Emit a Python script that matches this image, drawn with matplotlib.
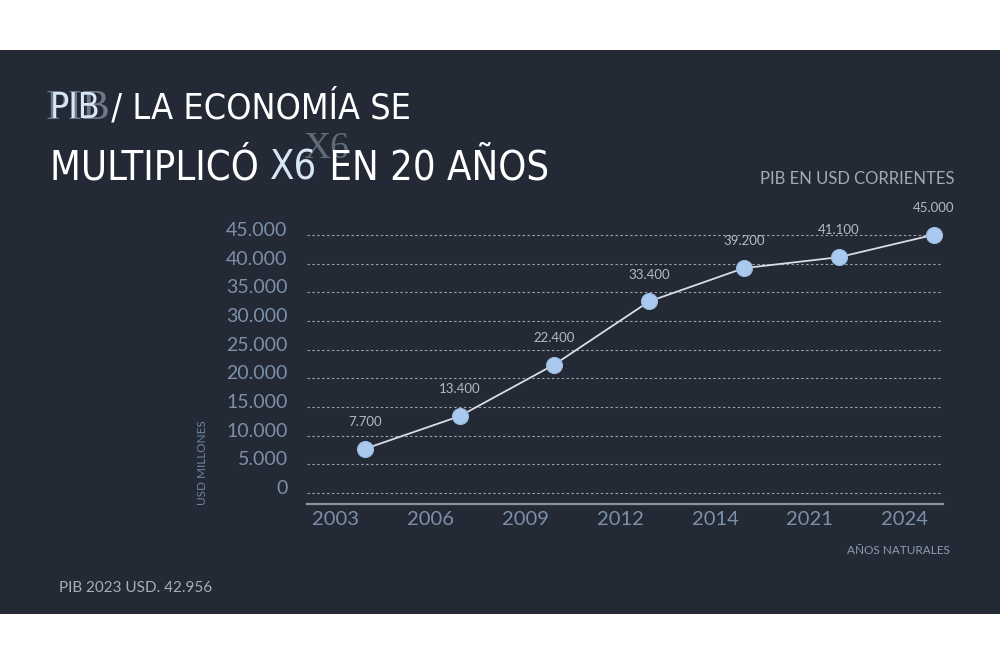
import matplotlib.pyplot as plt
import matplotlib.transforms as mtransforms
from matplotlib import font_manager
from matplotlib.patches import Rectangle

# data
years = ['2003', '2006', '2009', '2012', '2014', '2021', '2024']
pib = [7700, 13400, 22400, 33400, 39200, 41100, 45000]
pib_labels = ['7.700', '13.400', '22.400', '33.400', '39.200', '41.100', '45.000']
y_ticks = [0, 5000, 10000, 15000, 20000, 25000, 30000, 35000, 40000, 45000]
y_tick_labels = ['0', '5.000', '10.000', '15.000', '20.000', '25.000',
                 '30.000', '35.000', '40.000', '45.000']

BG = '#232a36'
TICK = '#7d90a8'
LABEL = '#b4bac4'
MARKER = '#a9caee'
LIGHTBLUE = '#d6e6f7'
SANS = ['Lato', 'DejaVu Sans']

# narrow font for the title if one is around
fp = font_manager.FontProperties(family='DejaVu Sans', stretch='condensed')
if 'Condensed' in font_manager.findfont(fp):
    TITLE_PROPS = dict(family='DejaVu Sans', fontstretch='condensed')
else:
    TITLE_PROPS = dict(family=SANS)

fig = plt.figure(figsize=(10, 6.67), dpi=100)
fig.patch.set_facecolor('white')

# dark panel
fig.patches.append(Rectangle((0, 1 - 614 / 667), 1, (614 - 50) / 667,
                             transform=fig.transFigure, facecolor=BG,
                             edgecolor='none', zorder=-5))

ax = fig.add_axes([0.307, 1 - 504 / 667, 0.636, 274.9 / 667])
ax.set_facecolor('none')
ax.set_zorder(2)

x = list(range(len(years)))
ax.plot(x, pib, color='#d9dde3', linewidth=1.3, zorder=3, clip_on=False)
ax.plot(x, pib, 'o', markersize=11.5, color=MARKER, markeredgecolor='#9dbde0',
        markeredgewidth=0.8, zorder=4, clip_on=False)
for xi, v, lab in zip(x, pib, pib_labels):
    ax.annotate(lab, (xi, v), xytext=(0, 15), textcoords='offset points',
                ha='center', va='bottom', color=LABEL, fontsize=9.5,
                family=SANS)

ax.set_xlim(-0.61, 6.1)
ax.set_ylim(-1900, 46000)
ax.set_yticks(y_ticks)
ax.set_yticklabels(y_tick_labels)
ax.set_xticks(x)
ax.set_xticklabels(years)
ax.grid(axis='y', color='#9aa1ab', linestyle=(0, (2.2, 2.2)), linewidth=0.8)
ax.set_axisbelow(True)
ax.tick_params(axis='both', length=0, colors=TICK)
ax.tick_params(axis='y', pad=14, labelsize=14)
ax.tick_params(axis='x', pad=5, labelsize=14.5)
for lab in ax.get_yticklabels() + ax.get_xticklabels():
    lab.set_family(SANS)

# nudge tick labels like in the original
dy = mtransforms.ScaledTranslation(0, 6 / 100, fig.dpi_scale_trans)
for lab in ax.get_yticklabels():
    lab.set_transform(lab.get_transform() + dy)
dx = mtransforms.ScaledTranslation(-29 / 100, 0, fig.dpi_scale_trans)
for lab in ax.get_xticklabels():
    lab.set_transform(lab.get_transform() + dx)

for s in ['top', 'right', 'left']:
    ax.spines[s].set_visible(False)
ax.spines['bottom'].set_color('#8a929c')
ax.spines['bottom'].set_linewidth(1.6)


def fy(py):
    return 1 - py / 667


fig.text(955 / 1000, fy(179), 'PIB EN USD CORRIENTES', ha='right', va='center',
         color='#a3aab5', fontsize=12, family=SANS)
fig.text(203 / 1000, fy(463), 'USD MILLONES', rotation=90, ha='center',
         va='center', color='#6d86a2', fontsize=8.5, family=SANS)
fig.text(950 / 1000, fy(551), 'AÑOS NATURALES', ha='right', va='center',
         color='#8e9cb0', fontsize=8.5, family=SANS)
fig.text(59 / 1000, fy(588), 'PIB 2023 USD. 42.956', ha='left', va='center',
         color='#a7aeb9', fontsize=11, family=SANS)

# title, drawn piece by piece to mix colours
fig.canvas.draw()
renderer = fig.canvas.get_renderer()


def line(parts, x0, base, width):
    # size the line so it spans about the same width as the original
    probe = fig.text(0, 0, ''.join(p[0] for p in parts), fontsize=30,
                     **TITLE_PROPS)
    size = 30 * width / probe.get_window_extent(renderer).width
    probe.remove()
    xpos = x0
    for txt, col in parts:
        t = fig.text(xpos / 1000, fy(base), txt, ha='left', va='baseline',
                     color=col, fontsize=size, **TITLE_PROPS)
        xpos += t.get_window_extent(renderer).width


# ghost letters behind the title
fig.text(46 / 1000, fy(119), 'PIB', ha='left', va='baseline', color='#8f9bab',
         alpha=0.7, fontsize=30,
         family=['Liberation Serif', 'DejaVu Serif'])
fig.text(303 / 1000, fy(158), 'X6', ha='left', va='baseline', color='#8c95a2',
         alpha=0.6, fontsize=27, family=['Liberation Serif', 'DejaVu Serif'])

line([('PIB', LIGHTBLUE), (' / LA ECONOMÍA SE', 'white')], 50, 118, 360)
line([('MULTIPLICÓ ', 'white'), ('X6', LIGHTBLUE), (' EN 20 AÑOS', 'white')],
     50, 180, 498)

fig.savefig('out.png', dpi=100, facecolor=fig.get_facecolor())
